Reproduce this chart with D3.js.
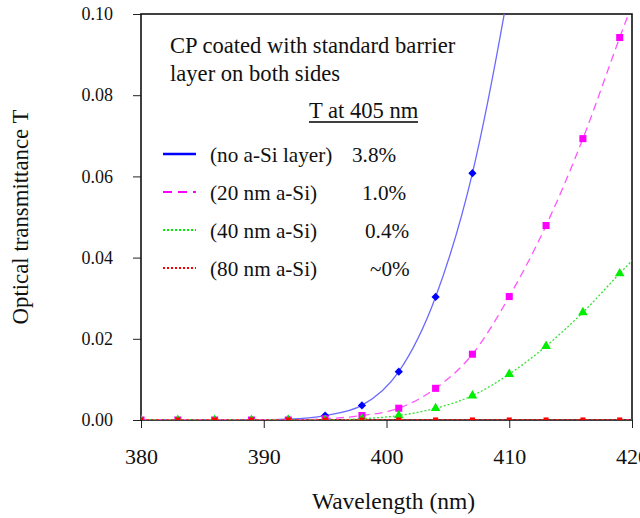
<!DOCTYPE html>
<html>
<head>
<meta charset="utf-8">
<script src="https://cdn.jsdelivr.net/npm/d3@7"></script>
<style>
  body { margin: 0; background: #fff; }
</style>
</head>
<body>
<div id="chart"></div>
<script>
// wavelengths (nm) where the markers sit
const wavelengths = [380,383,386,389,392,395,398,401,404,407,410,413,416,419,422];
// transmittance per sample; values past the frame are clipped
const noSi   = [0,0,0,0,0.0002,0.0011,0.0036,0.0119,0.0303,0.0608,0.107,0.165,null,null,null];
const si20   = [0,0,0,0,0,0.0003,0.0011,0.0029,0.0078,0.0162,0.0304,0.0479,0.0693,0.0942,0.118];
const si40   = [0,0,0,0,0,0,0.0003,0.0011,0.0029,0.0060,0.0113,0.0182,0.0265,0.0361,0.0455];
const si80   = [0,0,0,0,0,0,0,0,0,0,0,0,0,0,0];
const seriesNames = ['(no a-Si layer)','(20 nm a-Si)','(40 nm a-Si)','(80 nm a-Si)'];
const at405 = ['3.8%','1.0%','0.4%','~0%'];
const xTicks = [380,390,400,410,420];
const yTicks = [0,0.02,0.04,0.06,0.08,0.10];

const FONT = "'Liberation Serif', 'Times New Roman', serif";
const W = 640, H = 518;
const m = {l:141, r:632, t:14, b:420};

let svg = d3.select('#chart').append('svg').attr('width',W).attr('height',H)
  .style('font-family',FONT);

let x = d3.scaleLinear().domain([380,420]).range([m.l,m.r]);
let y = d3.scaleLinear().domain([0,0.1]).range([m.b,m.t]);

svg.append('defs').append('clipPath').attr('id','plot')
  .append('rect').attr('x',m.l).attr('y',m.t).attr('width',m.r-m.l).attr('height',m.b-m.t);

// axes
let gx = svg.append('g').attr('transform','translate(0,'+m.b+')')
  .call(d3.axisBottom(x).tickValues(xTicks).tickSize(8).tickPadding(20).tickFormat(d3.format('d')));
let gy = svg.append('g').attr('transform','translate('+m.l+',0)')
  .call(d3.axisLeft(y).tickValues(yTicks).tickSize(8).tickPadding(20).tickFormat(d3.format('.2f')));
gx.select('.domain').remove();
gy.select('.domain').remove();
gx.attr('font-family',null); gy.attr('font-family',null);
gx.selectAll('text').style('font-size','22px').style('font-family',FONT).attr('fill','#111');
gy.selectAll('text').style('font-size','18px').style('font-family',FONT).attr('fill','#111');
svg.selectAll('.tick line').attr('stroke','#222').attr('stroke-width',1);

// frame
svg.append('rect').attr('x',m.l).attr('y',m.t).attr('width',m.r-m.l).attr('height',m.b-m.t)
  .attr('fill','none').attr('stroke','#111').attr('stroke-width',1.6);

let series = [
  {vals: noSi, line:'#6a6aff', mark:'#0000ff', dash:null,  key:'#0000ff', keyDash:null,  keyW:2.6, sym:d3.symbolSquare,  size:34, rot:45},
  {vals: si20, line:'#ff55ff', mark:'#ff00ff', dash:'8,5', key:'#ff00ff', keyDash:'9,6', keyW:2,   sym:d3.symbolSquare,  size:50, rot:0},
  {vals: si40, line:'#33e033', mark:'#00ee00', dash:'2,2', key:'#00ee00', keyDash:'2,2', keyW:2,   sym:d3.symbolTriangle, size:40, rot:0},
  {vals: si80, line:'#ff2020', mark:'#ff0000', dash:'3,2', key:'#ff0000', keyDash:'2,2', keyW:2,   sym:d3.symbolSquare,  size:26, rot:0}
];

let plot = svg.append('g').attr('clip-path','url(#plot)');
let line = d3.line().defined(d => d[1]!==null)
  .x(d => x(d[0])).y(d => y(d[1])).curve(d3.curveMonotoneX);

series.forEach(s => {
  let pts = wavelengths.map((w,i) => [w, s.vals[i]]);
  plot.append('path').attr('d',line(pts)).attr('fill','none')
    .attr('stroke',s.line).attr('stroke-width',1.3)
    .attr('stroke-dasharray',s.dash);
  plot.selectAll(null).data(pts.filter(p => p[1]!==null && p[0]<=419)).enter()
    .append('path')
    .attr('d',d3.symbol().type(s.sym).size(s.size))
    .attr('transform',p => 'translate('+x(p[0])+','+y(p[1])+') rotate('+s.rot+')')
    .attr('fill',s.mark);
});

function label(xx,yy,size,txt) {
  return svg.append('text').attr('x',xx).attr('y',yy)
    .style('font-family',FONT).style('font-size',size+'px').attr('fill','#111').text(txt);
}

// annotation and legend
label(170,53,22.6,'CP coated with standard barrier');
label(170,81,22.6,'layer on both sides');
label(309,118,22.6,'T at 405 nm');
svg.append('line').attr('x1',309).attr('x2',418).attr('y1',122).attr('y2',122)
  .attr('stroke','#000').attr('stroke-width',1.3);

let valX = [352,362,365,370];
series.forEach((s,i) => {
  let yy = 154 + i*38;
  svg.append('line').attr('x1',163).attr('x2',196).attr('y1',yy).attr('y2',yy)
    .attr('stroke',s.key).attr('stroke-width',s.keyW).attr('stroke-dasharray',s.keyDash);
  label(210,yy+8,21.2,seriesNames[i]);
  label(valX[i],yy+8,21.2,at405[i]);
});

// axis titles
label((m.l+m.r)/2+7,509,23.5,'Wavelength (nm)').attr('text-anchor','middle');
label(0,0,22.8,'Optical transmittance T').attr('text-anchor','middle')
  .attr('transform','translate(28,'+((m.t+m.b)/2)+') rotate(-90)');
</script>
</body>
</html>
